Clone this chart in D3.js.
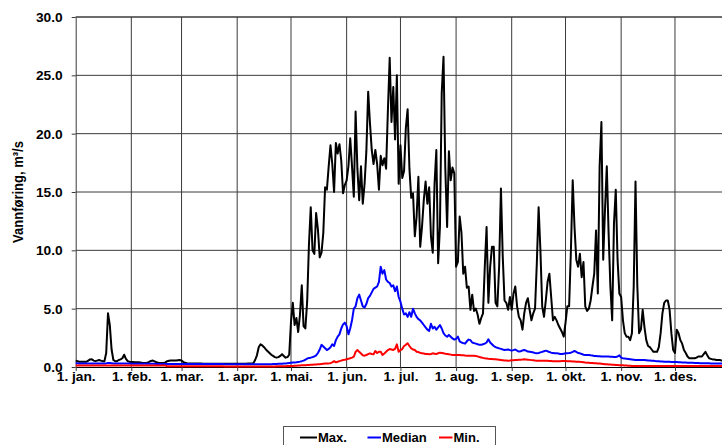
<!DOCTYPE html>
<html>
<head>
<meta charset="utf-8">
<script src="https://cdn.jsdelivr.net/npm/d3@7"></script>
<style>
  html, body { margin: 0; padding: 0; background: #ffffff; }
  svg { display: block; font-family: "Liberation Sans", Arial, sans-serif; font-weight: bold; }
</style>
</head>
<body>
<svg id="chart" width="722" height="445"></svg>
<script>
// Day-of-year index where each month starts, and its label
const monthStarts = [0, 31, 59, 90, 120, 151, 181, 212, 243, 273, 304, 334];
const monthLabels = ["1. jan.", "1. feb.", "1. mar.", "1. apr.", "1. mai.", "1. jun.",
                     "1. jul.", "1. aug.", "1. sep.", "1. okt.", "1. nov.", "1. des."];
const yTicks = [0, 5, 10, 15, 20, 25, 30];

const seriesNames = ["Max.", "Median", "Min."];
const seriesColors = ["#000000", "#0000ff", "#ff0000"];

// Daily discharge (m³/s), one value per day from 1 January
const maxFlow = [
  // jan
  0.55,0.5,0.45,0.45,0.45,0.45,0.45,0.55,0.65,0.66, 0.55,0.5,0.55,0.6,0.55,0.5,0.5,1.2,4.6,3.6,
  1.5,0.6,0.5,0.5,0.6,0.65,0.75,1.05,0.7,0.5, 0.45,
  // feb
  0.42,0.42,0.4,0.4,0.4,0.38,0.36,0.35,0.34,0.36, 0.45,0.52,0.55,0.48,0.4,0.36,0.34,0.34,0.35,0.4,
  0.5,0.53,0.55,0.55,0.55,0.56,0.58,0.6,
  // mar
  0.55,0.42,0.36,0.33,0.31,0.3,0.3,0.3,0.29,0.29, 0.29,0.29,0.28,0.28,0.28,0.28,0.28,0.28,0.28,0.28,
  0.28,0.28,0.28,0.28,0.28,0.28,0.28,0.28,0.28,0.28, 0.28,
  // apr
  0.28,0.28,0.28,0.28,0.28,0.28,0.29,0.29,0.3,0.32, 0.6,1.0,1.7,1.95,1.85,1.7,1.5,1.35,1.2,1.05,
  0.95,0.85,0.8,0.85,0.95,1.1,0.95,0.8,0.85,1.05,
  // mai
  3.9,5.5,3.6,4.2,3.0,4.5,7.0,3.5,3.3,5.6, 10.5,13.7,10.0,9.7,13.2,11.8,9.4,9.8,11.5,15.4,
  15.2,17.2,19.0,17.4,15.0,19.2,18.3,19.1,17.7,14.9, 15.6,
  // jun
  16.0,17.2,19.6,17.2,14.6,21.9,17.0,14.3,17.2,14.0, 15.7,18.5,23.6,20.9,18.6,17.4,18.6,17.4,15.2,18.1,
  17.3,17.9,17.0,22.0,26.5,21.0,24.0,19.5,25.0,15.7,
  // jul
  19.0,16.2,16.8,20.5,22.1,17.0,14.5,14.9,11.2,12.9, 16.3,10.3,12.0,14.3,15.9,14.0,15.4,11.2,9.8,15.7,
  18.6,8.9,12.0,23.5,26.6,17.0,12.0,18.5,16.0,17.1, 16.6,
  // aug
  8.6,9.0,12.9,11.5,8.0,8.6,6.8,6.9,4.9,6.2, 4.8,5.0,4.5,3.7,4.2,4.6,8.6,12.0,5.5,8.6,
  10.3,10.3,5.5,5.2,8.6,15.3,9.5,5.7,5.5,4.9, 6.0,
  // sep
  4.9,6.3,6.9,5.2,4.3,4.0,3.2,4.6,5.5,5.9, 4.9,4.0,4.6,5.0,8.9,13.7,10.0,5.2,4.3,5.7,
  7.3,8.0,6.0,4.0,4.3,4.0,3.6,3.3,3.0,2.6,
  // okt
  3.8,5.2,5.2,10.0,16.0,12.0,9.2,8.6,9.7,7.7, 9.0,5.2,4.8,5.0,5.7,6.9,8.0,11.7,6.3,17.2,
  21.0,9.2,13.5,17.2,11.5,6.9,4.0,12.3,15.2,9.2, 6.3,
  // nov
  6.0,4.0,2.9,2.6,2.6,2.3,2.9,6.9,15.9,7.0, 2.9,3.2,4.9,3.4,2.3,1.8,1.7,1.5,1.3,1.3,
  1.3,1.7,2.9,4.6,5.5,5.7,5.7,4.9,2.9,1.45,
  // des
  1.2,3.2,2.9,2.3,2.0,1.45,1.2,0.9,0.75,0.75, 0.75,0.75,0.8,0.9,0.9,0.9,1.1,1.3,1.0,0.75,
  0.7,0.65,0.65,0.6,0.6,0.6,0.55,0.55,0.5,0.5, 0.5
];

const medianFlow = [
  // jan
  0.32,0.32,0.31,0.31,0.31,0.3,0.3,0.3,0.3,0.3, 0.3,0.3,0.3,0.3,0.3,0.3,0.3,0.31,0.34,0.34,
  0.32,0.3,0.3,0.29,0.29,0.29,0.29,0.3,0.3,0.29, 0.29,
  // feb
  0.28,0.28,0.28,0.28,0.27,0.27,0.27,0.27,0.27,0.27, 0.27,0.27,0.27,0.27,0.26,0.26,0.26,0.26,0.26,0.26,
  0.26,0.26,0.26,0.26,0.26,0.26,0.26,0.26,
  // mar
  0.25,0.25,0.25,0.25,0.25,0.25,0.25,0.25,0.25,0.25, 0.25,0.25,0.25,0.25,0.25,0.25,0.25,0.25,0.25,0.25,
  0.25,0.25,0.25,0.25,0.24,0.24,0.24,0.24,0.24,0.24, 0.24,
  // apr
  0.24,0.24,0.24,0.24,0.24,0.24,0.24,0.24,0.24,0.24, 0.24,0.24,0.24,0.24,0.24,0.24,0.24,0.24,0.24,0.24,
  0.25,0.25,0.26,0.27,0.28,0.28,0.29,0.3,0.32,0.34,
  // mai
  0.36,0.38,0.39,0.4,0.43,0.46,0.5,0.55,0.62,0.72, 0.78,0.8,0.85,0.9,1.0,1.2,1.5,1.9,1.75,1.6,
  1.45,1.55,1.7,1.95,1.8,2.3,2.6,2.8,3.3,3.65, 3.8,
  // jun
  3.5,2.8,3.3,4.0,5.0,5.2,5.9,6.2,5.7,5.2, 5.1,5.4,5.9,6.1,6.4,6.7,6.8,6.9,7.3,8.6,
  8.0,8.3,7.5,7.3,7.2,6.9,7.0,6.5,6.9,6.0,
  // jul
  5.6,5.0,4.5,4.6,4.3,4.7,4.3,5.0,4.6,4.3, 4.1,4.0,3.8,3.6,3.4,3.2,3.1,3.7,3.3,3.45,
  3.2,3.4,3.6,3.3,2.9,2.7,2.6,2.75,2.6,2.45, 2.35,
  // aug
  2.4,2.6,2.2,2.1,2.05,2.0,2.2,2.35,2.3,2.1, 2.05,2.0,1.95,1.9,1.9,1.95,2.0,2.1,2.37,2.1,
  1.95,1.8,1.7,1.65,1.6,1.55,1.5,1.46,1.48,1.5, 1.45,
  // sep
  1.4,1.45,1.5,1.4,1.32,1.35,1.42,1.46,1.4,1.32, 1.3,1.28,1.25,1.2,1.17,1.2,1.25,1.3,1.35,1.4,
  1.35,1.28,1.23,1.2,1.17,1.17,1.15,1.12,1.11,1.14,
  // okt
  1.17,1.18,1.2,1.23,1.3,1.38,1.3,1.2,1.17,1.12, 1.05,1.03,1.03,1.03,1.0,0.98,0.95,0.94,0.93,0.92,
  0.9,0.89,0.89,0.89,0.89,0.88,0.87,0.86,0.85,0.9, 1.0,
  // nov
  0.8,0.74,0.72,0.7,0.68,0.66,0.64,0.62,0.6,0.6, 0.6,0.6,0.6,0.59,0.58,0.56,0.55,0.54,0.53,0.51,
  0.5,0.49,0.48,0.47,0.46,0.45,0.45,0.44,0.43,0.43,
  // des
  0.43,0.42,0.41,0.4,0.39,0.38,0.38,0.37,0.37,0.37, 0.36,0.35,0.34,0.34,0.33,0.33,0.33,0.32,0.32,0.32,
  0.31,0.31,0.31,0.31,0.31,0.31,0.31,0.31,0.3,0.3, 0.3
];

const minFlow = [
  // jan
  0.12,0.12,0.12,0.12,0.12,0.12,0.12,0.12,0.12,0.12, 0.12,0.12,0.12,0.12,0.12,0.12,0.12,0.12,0.13,0.13,
  0.12,0.12,0.12,0.12,0.12,0.12,0.12,0.12,0.12,0.12, 0.12,
  // feb
  0.12,0.12,0.12,0.12,0.12,0.12,0.12,0.12,0.12,0.12, 0.12,0.12,0.12,0.12,0.12,0.12,0.12,0.12,0.12,0.12,
  0.06,0.06,0.06,0.06,0.06,0.06,0.06,0.06,
  // mar
  0.06,0.06,0.06,0.06,0.06,0.06,0.06,0.06,0.06,0.06, 0.06,0.06,0.06,0.06,0.06,0.06,0.06,0.06,0.06,0.06,
  0.06,0.06,0.06,0.06,0.05,0.05,0.05,0.05,0.05,0.05, 0.05,
  // apr
  0.05,0.05,0.05,0.05,0.05,0.05,0.05,0.05,0.05,0.05, 0.05,0.05,0.05,0.05,0.05,0.05,0.05,0.05,0.05,0.05,
  0.05,0.05,0.06,0.06,0.06,0.07,0.07,0.07,0.08,0.08,
  // mai
  0.08,0.09,0.1,0.11,0.12,0.13,0.14,0.15,0.16,0.17, 0.18,0.19,0.2,0.21,0.22,0.23,0.24,0.26,0.28,0.3,
  0.3,0.31,0.33,0.4,0.5,0.4,0.45,0.5,0.55,0.6, 0.62,
  // jun
  0.66,0.7,0.75,0.8,0.88,1.3,1.46,1.3,1.15,1.0, 0.97,1.03,1.1,1.17,1.12,1.1,1.37,1.2,1.3,1.31,
  1.03,1.15,1.31,1.45,1.54,1.5,1.46,1.55,1.94,1.31,
  // jul
  1.45,1.54,1.8,1.9,2.03,1.8,1.6,1.5,1.46,1.31, 1.28,1.22,1.17,1.15,1.12,1.11,1.09,1.12,1.17,1.14,
  1.11,1.18,1.23,1.2,1.17,1.14,1.12,1.09,1.06,1.03, 1.03,
  // aug
  1.03,1.03,1.03,1.0,1.0,0.98,0.97,0.97,0.97,0.97, 0.96,0.94,0.91,0.86,0.82,0.78,0.74,0.72,0.7,0.69,
  0.68,0.67,0.66,0.64,0.62,0.6,0.58,0.56,0.55,0.54, 0.55,
  // sep
  0.57,0.58,0.6,0.61,0.62,0.63,0.64,0.66,0.65,0.63, 0.61,0.59,0.57,0.55,0.54,0.54,0.54,0.54,0.54,0.54,
  0.53,0.52,0.51,0.5,0.49,0.49,0.5,0.5,0.51,0.51,
  // okt
  0.51,0.5,0.5,0.49,0.48,0.47,0.46,0.45,0.44,0.42, 0.4,0.38,0.37,0.36,0.35,0.34,0.33,0.32,0.31,0.3,
  0.28,0.26,0.24,0.23,0.22,0.21,0.2,0.19,0.18,0.17, 0.16,
  // nov
  0.15,0.14,0.13,0.12,0.11,0.1,0.09,0.09,0.09,0.09, 0.09,0.09,0.09,0.09,0.09,0.09,0.09,0.09,0.09,0.09,
  0.09,0.09,0.09,0.09,0.09,0.09,0.09,0.09,0.09,0.09,
  // des
  0.08,0.08,0.08,0.08,0.08,0.08,0.08,0.08,0.08,0.08, 0.08,0.08,0.08,0.08,0.08,0.08,0.08,0.08,0.08,0.08,
  0.08,0.08,0.08,0.08,0.08,0.08,0.08,0.08,0.08,0.08, 0.08
];

const series = [maxFlow, medianFlow, minFlow];

const svg = d3.select("#chart");
const gridColor = "#3a3a3a";
const tickStretch = 1.1;

// Year on the x axis runs past the right edge of the canvas
const x = d3.scaleLinear().domain([0, 365]).range([75.7, 730.6]);
const y = d3.scaleLinear().domain([0, 30]).range([367, 17]);

// Horizontal grid
svg.append("g")
  .selectAll("line")
  .data(yTicks.slice(1))
  .join("line")
  .attr("x1", x(0)).attr("x2", x(365))
  .attr("y1", d => y(d)).attr("y2", d => y(d))
  .attr("stroke", gridColor).attr("stroke-width", 1);

// Vertical grid at month starts
svg.append("g")
  .selectAll("line")
  .data(monthStarts.slice(1))
  .join("line")
  .attr("x1", d => x(d)).attr("x2", d => x(d))
  .attr("y1", y(0)).attr("y2", y(30))
  .attr("stroke", gridColor).attr("stroke-width", 1);

// Y axis
const yAxis = svg.append("g")
  .attr("transform", `translate(${x(0)},0)`)
  .call(d3.axisLeft(y).tickValues(yTicks).tickFormat(d3.format(".1f")).tickSize(4).tickSizeOuter(0));
yAxis.select(".domain").attr("stroke", gridColor);
yAxis.selectAll(".tick line").attr("stroke", gridColor);
yAxis.selectAll(".tick text")
  .attr("font-size", 12.5).attr("font-weight", "bold").attr("fill", "#000")
  .attr("x", -13 / tickStretch).attr("dy", "0.36em")
  .attr("transform", `scale(${tickStretch},1)`);

// X axis
const xAxis = svg.append("g")
  .attr("transform", `translate(0,${y(0)})`)
  .call(d3.axisBottom(x).tickValues(monthStarts)
    .tickFormat((d, i) => monthLabels[i]).tickSize(4).tickSizeOuter(0));
xAxis.select(".domain").attr("stroke", "#000");
xAxis.selectAll(".tick line").attr("stroke", gridColor);
xAxis.selectAll(".tick text")
  .attr("font-size", 12.5).attr("font-weight", "bold").attr("fill", "#000")
  .attr("y", 14).attr("dy", 0)
  .attr("transform", `scale(${tickStretch},1)`);

// Plot frame top edge
svg.append("line")
  .attr("x1", x(0)).attr("x2", x(365))
  .attr("y1", y(30)).attr("y2", y(30))
  .attr("stroke", gridColor).attr("stroke-width", 1);

// Axis title
svg.append("text")
  .attr("transform", `translate(23,${(y(0) + y(30)) / 2}) rotate(-90) scale(1,${tickStretch})`)
  .attr("text-anchor", "middle")
  .attr("font-size", 13)
  .attr("fill", "#000")
  .text("Vannføring, m³/s");

// Series lines
const line = d3.line()
  .x((d, i) => x(i))
  .y(d => y(d));

svg.append("g")
  .selectAll("path")
  .data(series)
  .join("path")
  .attr("d", d => line(d))
  .attr("fill", "none")
  .attr("stroke", (d, i) => seriesColors[i])
  .attr("stroke-width", 2)
  .attr("stroke-linejoin", "round");

// Legend
const legend = svg.append("g");
legend.append("rect")
  .attr("x", 283.5).attr("y", 426.5)
  .attr("width", 212).attr("height", 24)
  .attr("fill", "#fff").attr("stroke", "#555").attr("stroke-width", 1);

const legendX = [300, 367.5, 439];
const items = legend.selectAll("g.item")
  .data(seriesNames)
  .join("g")
  .attr("class", "item")
  .attr("transform", (d, i) => `translate(${legendX[i]},437.5)`);
items.append("line")
  .attr("x1", 0).attr("x2", (d, i) => i === 0 ? 17 : 13.5)
  .attr("y1", 0).attr("y2", 0)
  .attr("stroke", (d, i) => seriesColors[i])
  .attr("stroke-width", 2);
items.append("text")
  .attr("x", (d, i) => i === 0 ? 18 : 14.5)
  .attr("y", 4.5)
  .attr("font-size", 13)
  .attr("fill", "#000")
  .text(d => d);
</script>
</body>
</html>
